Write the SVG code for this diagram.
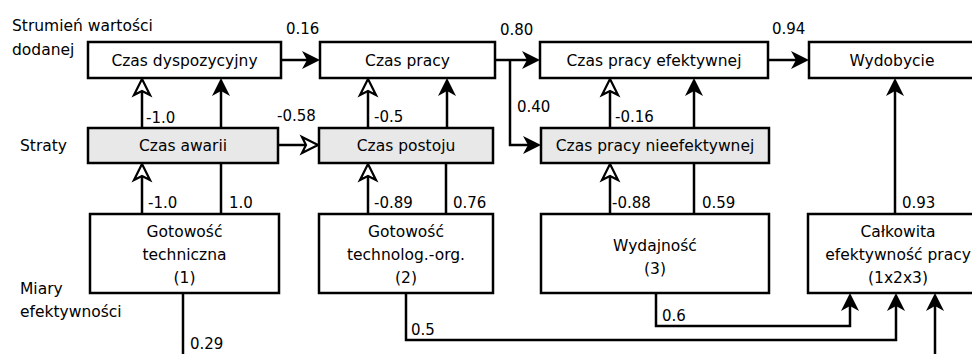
<svg xmlns="http://www.w3.org/2000/svg" width="972" height="354" viewBox="0 0 972 354">
<style>
.box{fill:#fff;stroke:#000;stroke-width:2.5}
.loss{fill:#e8e8e8;stroke:#000;stroke-width:2.5}
.t{font-family:"DejaVu Sans",Verdana,sans-serif;font-size:15.5px;fill:#000}
.c{text-anchor:middle}
.n{font-family:"DejaVu Sans",Verdana,sans-serif;font-size:15px;fill:#000}
.ln{fill:none;stroke:#000;stroke-width:2.5}
.fa{marker-end:url(#af)}
.oa{marker-end:url(#ao)}
</style>
<defs>
<marker id="af" markerUnits="userSpaceOnUse" viewBox="0 0 20 20" markerWidth="20" markerHeight="20" refX="5" refY="10" orient="auto" overflow="visible">
<path d="M18,10 L0,1 L5,10 L0,19 Z" fill="#000"/>
</marker>
<marker id="ao" markerUnits="userSpaceOnUse" viewBox="0 0 20 20" markerWidth="20" markerHeight="20" refX="5" refY="10" orient="auto" overflow="visible">
<path d="M17,10 L1,2 L5,10 L1,18 Z" fill="#fff" stroke="#000" stroke-width="2.2" stroke-linejoin="miter"/>
</marker>
</defs>
<rect width="972" height="354" fill="#fff"/>

<g id="labels">
<text class="t" x="12" y="31">Strumień wartości</text>
<text class="t" x="12" y="55">dodanej</text>
<text class="t" x="20" y="151">Straty</text>
<text class="t" x="20" y="294">Miary</text>
<text class="t" x="20" y="317">efektywności</text>
</g>

<g id="connectors">
<path class="ln fa" d="M281,60 H307"/>
<path class="ln fa" d="M495,60 H527"/>
<path class="ln fa" d="M510,60 V145 H528"/>
<path class="ln fa" d="M768,60 H796"/>
<path class="ln oa" d="M278,145 H306"/>
<path class="ln oa" d="M142,128 V91"/>
<path class="ln fa" d="M221,128 V91"/>
<path class="ln oa" d="M368,128 V91"/>
<path class="ln fa" d="M447,128 V91"/>
<path class="ln oa" d="M610,128 V91"/>
<path class="ln fa" d="M694,128 V91"/>
<path class="ln oa" d="M142,214 V176"/>
<path class="ln" d="M221,214 V163"/>
<path class="ln oa" d="M368,214 V176"/>
<path class="ln" d="M446,214 V163"/>
<path class="ln oa" d="M610,214 V176"/>
<path class="ln" d="M694,214 V163"/>
<path class="ln fa" d="M895,214 V91"/>
<path class="ln" d="M183,293 V360"/>
<path class="ln fa" d="M935,360 V306"/>
<path class="ln fa" d="M406,293 V340 H896 V306"/>
<path class="ln fa" d="M656,293 V326 H850 V306"/>
<text class="n" x="286" y="34">0.16</text>
<text class="n" x="500" y="35">0.80</text>
<text class="n" x="772" y="34">0.94</text>
<text class="n" x="517" y="112">0.40</text>
<text class="n" x="146" y="123">-1.0</text>
<text class="n" x="277" y="121">-0.58</text>
<text class="n" x="374" y="122">-0.5</text>
<text class="n" x="615" y="122">-0.16</text>
<text class="n" x="148" y="208">-1.0</text>
<text class="n" x="229" y="208">1.0</text>
<text class="n" x="374" y="208">-0.89</text>
<text class="n" x="453" y="208">0.76</text>
<text class="n" x="612" y="208">-0.88</text>
<text class="n" x="702" y="208">0.59</text>
<text class="n" x="902" y="208">0.93</text>
<text class="n" x="190" y="349">0.29</text>
<text class="n" x="411" y="335">0.5</text>
<text class="n" x="662" y="321">0.6</text>
</g>

<g id="czas-dyspozycyjny"><rect class="box" x="88" y="42" width="193" height="36"/><text class="t c" x="184.5" y="66">Czas dyspozycyjny</text></g>
<g id="czas-pracy"><rect class="box" x="320" y="42" width="175" height="36"/><text class="t c" x="407.5" y="66">Czas pracy</text></g>
<g id="czas-pracy-efektywnej"><rect class="box" x="540" y="42" width="228" height="36"/><text class="t c" x="654" y="66">Czas pracy efektywnej</text></g>
<g id="wydobycie"><rect class="box" x="809" y="42" width="180" height="36"/><text class="t c" x="892" y="66">Wydobycie</text></g>

<g id="czas-awarii"><rect class="loss" x="88" y="128" width="190" height="35"/><text class="t c" x="183" y="151">Czas awarii</text></g>
<g id="czas-postoju"><rect class="loss" x="319" y="128" width="174" height="35"/><text class="t c" x="406" y="151">Czas postoju</text></g>
<g id="czas-pracy-nieefektywnej"><rect class="loss" x="541" y="128" width="228" height="35"/><text class="t c" x="655" y="151">Czas pracy nieefektywnej</text></g>

<g id="gotowosc-techniczna"><rect class="box" x="90" y="214" width="189" height="79"/><text class="t c" x="184.5" y="237">Gotowość</text><text class="t c" x="184.5" y="260">techniczna</text><text class="t c" x="184.5" y="283">(1)</text></g>
<g id="gotowosc-technolog"><rect class="box" x="319" y="214" width="174" height="79"/><text class="t c" x="406" y="237">Gotowość</text><text class="t c" x="406" y="260">technolog.-org.</text><text class="t c" x="406" y="283">(2)</text></g>
<g id="wydajnosc"><rect class="box" x="541" y="214" width="228" height="79"/><text class="t c" x="655" y="251">Wydajność</text><text class="t c" x="655" y="274">(3)</text></g>
<g id="calkowita"><rect class="box" x="808" y="214" width="181" height="79"/><text class="t c" x="898" y="237">Całkowita</text><text class="t c" x="898" y="260">efektywność pracy</text><text class="t c" x="898" y="283">(1x2x3)</text></g>
</svg>
